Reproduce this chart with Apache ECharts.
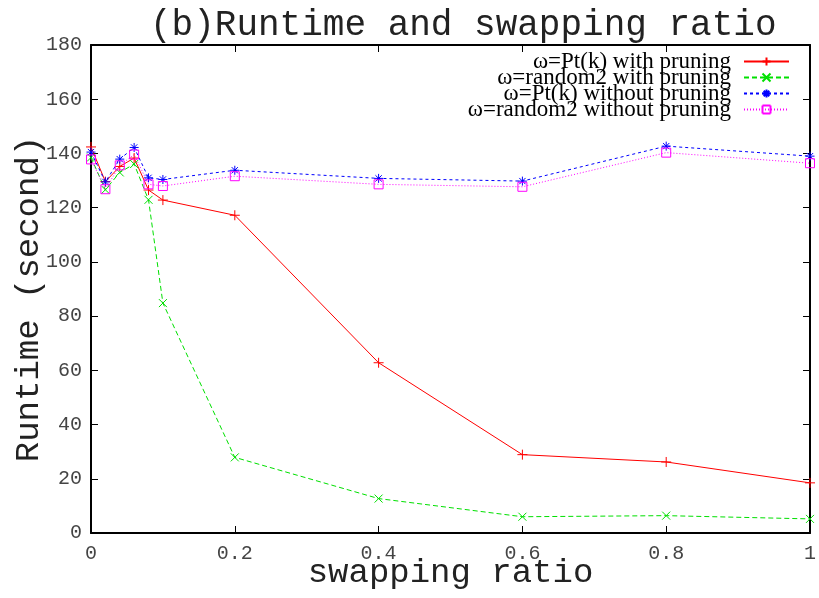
<!DOCTYPE html>
<html>
<head>
<meta charset="utf-8">
<script src="https://cdn.jsdelivr.net/npm/echarts@6/dist/echarts.min.js"></script>
<style>
  html, body { margin: 0; padding: 0; background: #fff; }
  #chart { width: 819px; height: 598px; }
</style>
</head>
<body>
<div id="chart"></div>
<script>
// Swapping ratio on the x axis
const ratios = [0, 0.02, 0.04, 0.06, 0.08, 0.1, 0.2, 0.4, 0.6, 0.8, 1];

// Runtime in seconds for each configuration
const ptkWithPruning      = [142.4, 129.6, 135.2, 138.3, 126.5, 122.8, 117.2, 62.8, 28.9, 26.2, 18.5];
const random2WithPruning  = [138.5, 126.6, 133.0, 136.1, 122.9, 84.8, 27.9, 12.7, 6.0, 6.4, 5.2];
const ptkNoPruning        = [140.5, 129.5, 137.9, 142.2, 131.0, 130.4, 133.8, 130.8, 129.8, 142.7, 139.0];
const random2NoPruning    = [137.8, 126.8, 135.6, 139.6, 128.6, 128.0, 131.6, 128.6, 127.7, 140.3, 136.4];

const seriesNames = [
  'ω=Pt(k) with pruning',
  'ω=random2 with pruning',
  'ω=Pt(k) without pruning',
  'ω=random2 without pruning'
];

// Stroke-only marker shapes (each sub-path is a single segment, so nothing gets filled)
const PLUS   = 'path://M5 0L5 10M0 5L10 5';
const CROSS  = 'path://M0 0L10 10M10 0L0 10';
const STAR   = 'path://M5 0L5 10M0 5L10 5M1.5 1.5L8.5 8.5M8.5 1.5L1.5 8.5';
const SQUARE = 'path://M0 0L10 0M10 0L10 10M10 10L0 10M0 10L0 0';

const mono = 'Liberation Mono';

function pairs(values) {
  return ratios.map((x, i) => [x, values[i]]);
}

function lineSeries(name, values, color, symbol, size, dash) {
  return {
    name: name,
    type: 'line',
    data: pairs(values),
    xAxisIndex: 0,
    yAxisIndex: 0,
    symbol: symbol,
    symbolSize: size,
    showSymbol: true,
    clip: false,
    color: color,
    lineStyle: { color: color, width: 1, type: dash },
    itemStyle: { color: color, borderColor: color, borderWidth: 1 },
    emphasis: { disabled: true },
    animation: false
  };
}

const chart = echarts.init(document.getElementById('chart'));

const tickStyle = { show: true, inside: true, length: 7, lineStyle: { color: '#000', width: 1 } };
const borderLine = { show: true, onZero: false, lineStyle: { color: '#000', width: 2 } };

chart.setOption({
  backgroundColor: '#fff',
  animation: false,
  title: {
    text: '(b)Runtime and swapping ratio',
    left: 145,
    top: 2,
    textStyle: { fontFamily: mono, fontSize: 36, fontWeight: 'normal', color: '#222' }
  },
  legend: {
    data: seriesNames,
    orient: 'vertical',
    align: 'right',
    right: 24,
    top: 45,
    itemWidth: 45,
    itemHeight: 10,
    itemGap: -7,
    selectedMode: false,
    textStyle: { fontFamily: 'Liberation Serif', fontSize: 23, color: '#000', padding: [0, 8, 0, 0] }
  },
  grid: { left: 91, right: 9, top: 45, bottom: 65, containLabel: false, outerBoundsMode: 'none' },
  xAxis: [
    {
      type: 'value',
      position: 'bottom',
      min: 0, max: 1, interval: 0.2,
      name: 'swapping ratio',
      nameLocation: 'middle',
      nameGap: 23,
      nameMoveOverlap: false,
      nameTextStyle: { fontFamily: mono, fontSize: 34, color: '#222' },
      axisLine: borderLine,
      axisTick: tickStyle,
      axisLabel: { fontFamily: mono, fontSize: 20, color: '#444', margin: 11 },
      splitLine: { show: false }
    },
    {
      type: 'value',
      position: 'top',
      min: 0, max: 1, interval: 0.2,
      axisLine: borderLine,
      axisTick: tickStyle,
      axisLabel: { show: false },
      splitLine: { show: false }
    }
  ],
  yAxis: [
    {
      type: 'value',
      position: 'left',
      min: 0, max: 180, interval: 20,
      name: 'Runtime (second)',
      nameLocation: 'middle',
      nameGap: 45,
      nameMoveOverlap: false,
      nameTextStyle: { fontFamily: mono, fontSize: 34, color: '#222', padding: [0, 20, 0, 0] },
      axisLine: borderLine,
      axisTick: tickStyle,
      axisLabel: { fontFamily: mono, fontSize: 20, color: '#444', margin: 9 },
      splitLine: { show: false }
    },
    {
      type: 'value',
      position: 'right',
      min: 0, max: 180, interval: 20,
      axisLine: borderLine,
      axisTick: tickStyle,
      axisLabel: { show: false },
      splitLine: { show: false }
    }
  ],
  series: [
    lineSeries(seriesNames[0], ptkWithPruning, '#ff0000', PLUS, 10, 'solid'),
    lineSeries(seriesNames[1], random2WithPruning, '#00e000', CROSS, 8, [5, 3]),
    lineSeries(seriesNames[2], ptkNoPruning, '#0000ff', STAR, 9, [3, 3]),
    lineSeries(seriesNames[3], random2NoPruning, '#ff00ff', SQUARE, 9, [1, 2])
  ]
});
</script>
</body>
</html>
